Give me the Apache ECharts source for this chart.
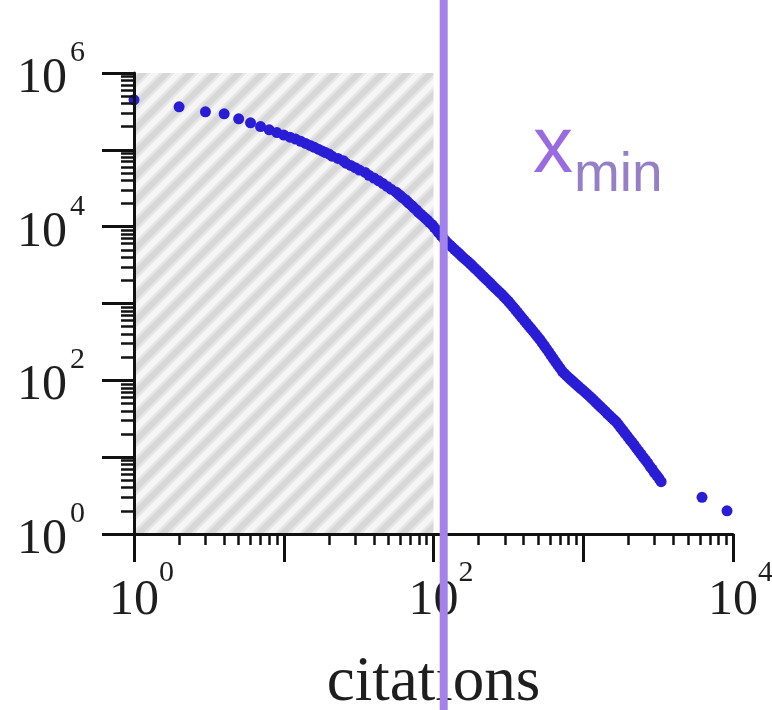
<!DOCTYPE html>
<html><head><meta charset="utf-8">
<script src="https://cdn.jsdelivr.net/npm/echarts@6/dist/echarts.min.js"></script>
<style>html,body{margin:0;padding:0;background:#fff}#c{width:772px;height:710px}</style>
</head><body><div id="c"></div>
<script>
// ---- data ----
const citations = [1,2,3,4,5,6,7,8,9,10,11,12,13,14,15,16,17,18,19,20,
  21,23,25,26,28,30,32,35,37,40,43,46,49,52,56,58,60,62,65,67,69,72,74,77,79,82,85,88,91,94,98,
  101,105,108,112,116,120,124,129,133,138,143,148,153,158,164,170,176,182,188,195,202,209,216,224,232,240,248,257,266,275,285,295,305,316,327,339,351,363,376,389,403,417,432,447,462,479,495,513,531,550,569,589,610,631,653,676,700,724,750,776,804,832,861,891,923,955,989,
  1023,1059,1096,1135,1175,1216,1259,1303,1349,1396,1445,1496,1549,1603,1660,1718,1778,1841,1905,1972,2042,2113,2188,2265,2344,2427,2512,2600,2692,2786,2884,2985,3090,3199,3311,
  6210,9120];
const counts = [448000,363000,312000,294000,253000,225000,201000,182000,168000,156000,146000,138000,129000,121000,114000,108000,102000,96900,92200,88300,
  82800,77300,72100,67100,62700,58500,54600,50800,46700,43000,39500,36400,33400,30800,28300,26800,25400,23900,22400,21100,19900,18700,17600,16500,15500,14600,13700,12900,12200,11400,10600,
  9800,9060,8370,7730,7140,6590,6150,5740,5400,5070,4760,4480,4210,3950,3720,3500,3290,3090,2890,2710,2540,2380,2230,2080,1950,1830,1710,1600,1500,1410,1320,1230,1150,1070,988,910,839,773,712,656,605,557,513,473,436,402,370,341,310,282,256,233,211,192,174,158,144,131,122,114,107,101,95.1,89.5,84.3,79.4,74.9,
  70.6,66.5,62.7,58.7,55.1,51.6,48.3,45.3,42.5,39.8,37.2,34.9,32.7,30.7,28.8,26.5,24.3,22.3,20.4,18.7,17.1,15.7,14.4,13.1,12.0,11.0,10.0,9.2,8.4,7.6,7.0,6.3,5.8,5.3,4.8,
  3,2];
const xMin = 117;
const hatchRange = [1, 100];
const xMajorTicks = [1,10,100,1000,10000];
const xLabelValues = [1,100,10000];
const xMinorTicks = [2,3,4,5,6,7,8,9,20,30,40,50,60,70,80,90,200,300,400,500,600,700,800,900,2000,3000,4000,5000,6000,7000,8000,9000];
const yMajorTicks = [1,10,100,1000,10000,100000,1000000];
const yLabelValues = [1,100,10000,1000000];
const yMinorTicks = [2,3,4,5,6,7,8,9,20,30,40,50,60,70,80,90,200,300,400,500,600,700,800,900,
  2000,3000,4000,5000,6000,7000,8000,9000,20000,30000,40000,50000,60000,70000,80000,90000,
  200000,300000,400000,500000,600000,700000,800000,900000];
const xAxisTitle = 'citations';
const markerText = ['x', 'min'];

// ---- styles ----
const SERIF = '"Liberation Serif","DejaVu Serif",serif';
const SANS = '"Liberation Sans",Arial,sans-serif';
const INK = '#1e1e1e';
const PURPLE = '#a283ea';
const BLUE = '#2a1dd6';

function stripes() {
  const c = document.createElement('canvas');
  c.width = 24; c.height = 24;
  const g = c.getContext('2d');
  g.fillStyle = '#f5f5f5'; g.fillRect(0, 0, 24, 24);
  const segs = [[-12,12,12,-12],[0,24,24,0],[12,36,36,12]];
  [[11,'#e6e6e6'],[6,'#d7d7d7']].forEach(([w,col]) => {
    g.strokeStyle = col; g.lineWidth = w;
    segs.forEach(s => { g.beginPath(); g.moveTo(s[0],s[1]); g.lineTo(s[2],s[3]); g.stroke(); });
  });
  return c;
}

const powLabel = v => '{b|10}{s|' + Math.round(Math.log10(v)) + '}';
const base = {fontSize:50, lineHeight:50, fontFamily:SERIF, color:INK, verticalAlign:'bottom'};
const sup = {fontSize:30, lineHeight:30, fontFamily:SERIF, color:INK, verticalAlign:'bottom'};

const G = {left:134, right:39, top:73, bottom:176, containLabel:false, outerBoundsMode:'none'};
const chart = echarts.init(document.getElementById('c'), null, {renderer:'canvas'});
chart.setOption({
  animation:false,
  backgroundColor:'#fff',
  grid:[Object.assign({}, G), {left:G.left, right:G.right, top:0, bottom:0, containLabel:false, outerBoundsMode:'none'}],
  xAxis:[
    {type:'log', logBase:10, min:1, max:10000, gridIndex:0, position:'bottom', z:3,
     axisLine:{show:true, lineStyle:{color:'#111', width:3}},
     axisTick:{show:true, inside:false, length:28, customValues:xMajorTicks, lineStyle:{color:'#111', width:3}},
     axisLabel:{show:true, customValues:xLabelValues, margin:42, formatter:powLabel,
       rich:{b:Object.assign({}, base, {padding:[0,0,0,15]}), s:Object.assign({}, sup, {padding:[0,0,38,0]})}},
     splitLine:{show:false}, minorTick:{show:false},
     name:xAxisTitle, nameLocation:'middle', nameGap:118,
     nameTextStyle:{fontSize:63, fontFamily:SERIF, color:INK}},
    {type:'log', logBase:10, min:1, max:10000, gridIndex:0, position:'bottom', z:3,
     axisLine:{show:false},
     axisTick:{show:true, inside:false, length:11, customValues:xMinorTicks, lineStyle:{color:'#111', width:2.5}},
     axisLabel:{show:false}, splitLine:{show:false}},
    {type:'log', logBase:10, min:1, max:10000, gridIndex:1, show:false}
  ],
  yAxis:[
    {type:'log', logBase:10, min:1, max:1000000, gridIndex:0, position:'left', z:3,
     axisLine:{show:true, lineStyle:{color:'#111', width:3}},
     axisTick:{show:true, inside:false, length:32, customValues:yMajorTicks, lineStyle:{color:'#111', width:3}},
     axisLabel:{show:true, customValues:yLabelValues, margin:49, formatter:powLabel, padding:[12,0,0,0],
       rich:{b:Object.assign({}, base), s:Object.assign({}, sup, {padding:[0,0,36,3]})}},
     splitLine:{show:false}},
    {type:'log', logBase:10, min:1, max:1000000, gridIndex:0, position:'left', z:3,
     axisLine:{show:false},
     axisTick:{show:true, inside:false, length:13, customValues:yMinorTicks, lineStyle:{color:'#111', width:2.5}},
     axisLabel:{show:false}, splitLine:{show:false}},
    {type:'value', min:0, max:1, gridIndex:1, show:false}
  ],
  series:[
    {type:'scatter', xAxisIndex:0, yAxisIndex:0, z:2, silent:true,
     symbolSize:11, itemStyle:{color:BLUE, opacity:1},
     data:citations.map((c,i) => [c, counts[i]]),
     markArea:{silent:true, z:1, itemStyle:{color:{image:stripes(), repeat:'repeat'}, borderWidth:0},
       data:[[{coord:[hatchRange[0], yMajorTicks[0]]},{coord:[hatchRange[1], yMajorTicks[yMajorTicks.length-1]]}]]}},
    {type:'line', xAxisIndex:2, yAxisIndex:2, z:4, silent:true, showSymbol:false, symbol:'none',
     lineStyle:{color:PURPLE, width:8},
     data:[[xMin,0],[xMin,1]]}
  ],
  graphic:[
    {type:'text', x:533, y:150, z:10, style:{text:markerText[0], fontSize:80, fontFamily:SANS, fill:'#9a6be0', align:'left', verticalAlign:'middle'}},
    {type:'text', x:574, y:176, z:10, style:{text:markerText[1], fontSize:55, fontFamily:SANS, fill:'#9580c8', align:'left', verticalAlign:'middle'}}
  ]
});
</script></body></html>
